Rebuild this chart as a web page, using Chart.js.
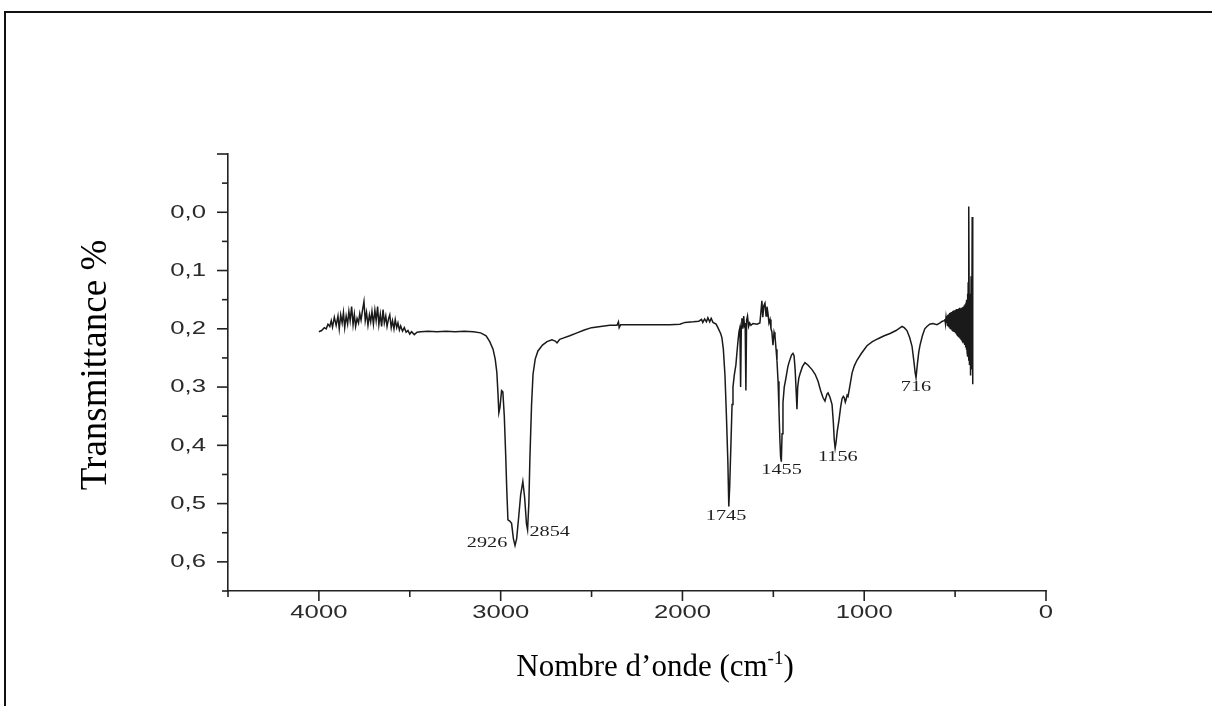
<!DOCTYPE html>
<html>
<head>
    <meta charset="UTF-8">
    <title>Spectre IR</title>
    <script src="https://cdn.jsdelivr.net/npm/chart.js"></script>
    <style>
        body { margin: 0; background: #fff; }
        #wrap { width: 1212px; height: 706px; }
    </style>
</head>
<body>
    <div id="wrap">
        <canvas id="irChart" width="1212" height="706"></canvas>
    </div>

    <script>
        // spectre (nombre d'onde en cm-1, transmittance)
        var wavenumber = [
            4000, 3985, 3970, 3960, 3950, 3940, 3932, 3925, 3915, 3905, 3895, 3888, 3880, 3872, 3865, 3858,
            3850, 3842, 3835, 3828, 3820, 3812, 3805, 3798, 3790, 3782, 3775, 3768, 3760, 3752, 3745, 3738,
            3730, 3722, 3715, 3708, 3700, 3692, 3685, 3677, 3670, 3662, 3655, 3647, 3640, 3632, 3625, 3617,
            3610, 3602, 3595, 3587, 3580, 3572, 3565, 3557, 3550, 3540, 3530, 3520, 3510, 3500, 3490, 3475,
            3460, 3440, 3400, 3350, 3300, 3250, 3200, 3150, 3110, 3080, 3060, 3042, 3030, 3021, 3015, 3010,
            3004, 2995, 2988, 2980, 2972, 2966, 2960, 2950, 2940, 2930, 2921, 2912, 2900, 2890, 2878, 2868,
            2858, 2852, 2845, 2839, 2830, 2822, 2810, 2795, 2770, 2745, 2718, 2700, 2690, 2675, 2657, 2620,
            2580, 2540, 2500, 2450, 2400, 2360, 2352, 2348, 2340, 2250, 2150, 2069, 2014, 1986, 1940, 1910,
            1895, 1888, 1878, 1868, 1860, 1850, 1842, 1832, 1815, 1805, 1790, 1783, 1775, 1766, 1758, 1750,
            1745, 1740, 1733, 1727, 1722, 1715, 1706, 1700, 1695, 1689, 1684, 1680, 1676, 1673, 1668, 1663,
            1658, 1655, 1651, 1647, 1642, 1636, 1630, 1623, 1612, 1590, 1574, 1568, 1563, 1558, 1552, 1546,
            1540, 1535, 1530, 1524, 1518, 1513, 1508, 1502, 1496, 1491, 1485, 1480, 1474, 1469, 1464, 1460,
            1456, 1452, 1447, 1440, 1431, 1420, 1414, 1400, 1392, 1386, 1380, 1374, 1370, 1366, 1360, 1354,
            1340, 1326, 1310, 1287, 1270, 1254, 1240, 1227, 1216, 1205, 1199, 1188, 1177, 1170, 1165, 1160,
            1155, 1148, 1139, 1130, 1122, 1115, 1110, 1104, 1100, 1094, 1089, 1080, 1067, 1055, 1040, 1015,
            985, 955, 924, 890, 858, 825, 792, 780, 765, 750, 737, 727, 720, 715, 708, 700,
            693, 680, 667, 655, 640, 622, 600, 583, 570, 560, 556, 553, 550, 547, 545, 542,
            540, 537, 535, 532, 530, 527, 525, 522, 520, 517, 515, 512, 510, 507, 505, 502,
            500, 497, 495, 492, 490, 487, 485, 482, 480, 477, 475, 472, 470, 467, 465, 462,
            460, 457, 455, 452, 450, 447, 445, 442, 440, 438, 436, 434, 432, 430, 428, 426,
            424, 421, 418, 415, 412, 409, 406, 404, 402
        ];
        var transmittance = [
            0.205, 0.203, 0.198, 0.200, 0.192, 0.196, 0.186, 0.197, 0.180, 0.194, 0.178, 0.200, 0.176, 0.190, 0.172, 0.198,
            0.178, 0.192, 0.170, 0.186, 0.162, 0.193, 0.175, 0.196, 0.182, 0.190, 0.174, 0.185, 0.168, 0.153, 0.186, 0.172,
            0.194, 0.176, 0.188, 0.170, 0.192, 0.168, 0.186, 0.162, 0.193, 0.175, 0.196, 0.167, 0.190, 0.178, 0.196, 0.183,
            0.176, 0.198, 0.186, 0.200, 0.184, 0.198, 0.190, 0.202, 0.195, 0.204, 0.198, 0.206, 0.203, 0.209, 0.205, 0.210,
            0.206, 0.205, 0.204, 0.205, 0.204, 0.205, 0.204, 0.205, 0.207, 0.212, 0.222, 0.235, 0.252, 0.275, 0.310, 0.344,
            0.335, 0.306, 0.308, 0.350, 0.420, 0.480, 0.528, 0.530, 0.534, 0.560, 0.572, 0.560, 0.520, 0.485, 0.462, 0.490,
            0.535, 0.545, 0.500, 0.420, 0.330, 0.278, 0.252, 0.238, 0.228, 0.222, 0.219, 0.221, 0.224, 0.218, 0.216, 0.212,
            0.207, 0.202, 0.198, 0.196, 0.194, 0.194, 0.188, 0.198, 0.193, 0.193, 0.193, 0.193, 0.192, 0.189, 0.188, 0.187,
            0.184, 0.189, 0.183, 0.188, 0.181, 0.188, 0.182, 0.189, 0.192, 0.198, 0.208, 0.215, 0.235, 0.280, 0.350, 0.430,
            0.505, 0.470, 0.395, 0.330, 0.300, 0.280, 0.262, 0.240, 0.223, 0.205, 0.198, 0.300, 0.195, 0.182, 0.200, 0.178,
            0.198, 0.190, 0.306, 0.185, 0.178, 0.196, 0.190, 0.194, 0.191, 0.192, 0.190, 0.170, 0.152, 0.180, 0.160, 0.156,
            0.178, 0.162, 0.172, 0.190, 0.184, 0.200, 0.205, 0.228, 0.206, 0.212, 0.235, 0.255, 0.290, 0.339, 0.390, 0.420,
            0.428, 0.380, 0.327, 0.300, 0.285, 0.265, 0.258, 0.245, 0.242, 0.246, 0.270, 0.310, 0.338, 0.300, 0.285, 0.278,
            0.265, 0.258, 0.262, 0.270, 0.278, 0.290, 0.306, 0.318, 0.324, 0.312, 0.310, 0.318, 0.330, 0.360, 0.390, 0.405,
            0.395, 0.375, 0.357, 0.335, 0.320, 0.316, 0.318, 0.326, 0.322, 0.314, 0.316, 0.300, 0.276, 0.264, 0.254, 0.242,
            0.229, 0.222, 0.217, 0.212, 0.208, 0.203, 0.196, 0.198, 0.203, 0.215, 0.230, 0.255, 0.275, 0.284, 0.262, 0.240,
            0.228, 0.212, 0.200, 0.196, 0.192, 0.191, 0.193, 0.190, 0.187, 0.186, 0.183, 0.191, 0.180, 0.190, 0.178, 0.194,
            0.176, 0.195, 0.175, 0.197, 0.173, 0.199, 0.172, 0.200, 0.171, 0.202, 0.170, 0.203, 0.169, 0.205, 0.168, 0.206,
            0.168, 0.208, 0.167, 0.210, 0.166, 0.211, 0.166, 0.213, 0.165, 0.214, 0.164, 0.216, 0.165, 0.218, 0.164, 0.220,
            0.163, 0.222, 0.162, 0.224, 0.160, 0.228, 0.158, 0.232, 0.155, 0.236, 0.150, 0.240, 0.140, 0.248, 0.120, 0.255,
            -0.010, 0.262, 0.140, 0.280, 0.110, 0.270, 0.008, 0.230, 0.295
        ];

        // pics annotés
        var peakNames = ['2926', '2854', '1745', '1455', '1156', '716'];
        var peakLabelWn = [3075, 2730, 1760, 1455, 1145, 715];
        var peakLabelT = [0.567, 0.549, 0.522, 0.443, 0.420, 0.300];

        var xTickLabels = ['4000', '3000', '2000', '1000', '0'];
        var yTickLabels = ['0,0', '0,1', '0,2', '0,3', '0,4', '0,5', '0,6'];

        function stretchText(ctx, text, x, y, sx) {
            ctx.save();
            ctx.translate(x, y);
            ctx.scale(sx, 1);
            ctx.fillText(text, 0, 0);
            ctx.restore();
        }

        var decorPlugin = {
            id: 'decor',
            afterDraw: function (chart) {
                var ctx = chart.ctx;
                var xs = chart.scales.x;
                var ys = chart.scales.y;
                var area = chart.chartArea;

                ctx.save();
                ctx.strokeStyle = '#222';
                ctx.lineWidth = 1.6;

                // ticks y
                ys.ticks.forEach(function (t) {
                    var v = t.value;
                    var py = ys.getPixelForValue(v);
                    var major = Math.abs(v * 10 - Math.round(v * 10)) < 1e-6;
                    ctx.beginPath();
                    ctx.moveTo(area.left - (major ? 11 : 6), py);
                    ctx.lineTo(area.left, py);
                    ctx.stroke();
                });
                // ticks x
                xs.ticks.forEach(function (t) {
                    var px = xs.getPixelForValue(t.value);
                    var major = t.value % 1000 === 0;
                    ctx.beginPath();
                    ctx.moveTo(px, area.bottom);
                    ctx.lineTo(px, area.bottom + (major ? 10 : 6));
                    ctx.stroke();
                });

                // libellés des ticks
                ctx.fillStyle = '#2a2a2a';
                ctx.font = '19px "Liberation Sans", Arial, sans-serif';
                ctx.textBaseline = 'middle';
                ctx.textAlign = 'right';
                yTickLabels.forEach(function (lab) {
                    var v = parseFloat(lab.replace(',', '.'));
                    stretchText(ctx, lab, area.left - 22, ys.getPixelForValue(v), 1.35);
                });
                ctx.textAlign = 'center';
                xTickLabels.forEach(function (lab) {
                    stretchText(ctx, lab, xs.getPixelForValue(+lab), area.bottom + 22, 1.35);
                });

                // annotations des pics
                ctx.fillStyle = '#1e1e1e';
                ctx.font = '15px "Liberation Serif", "Times New Roman", serif';
                ctx.textAlign = 'center';
                peakNames.forEach(function (name, i) {
                    stretchText(ctx, name, xs.getPixelForValue(peakLabelWn[i]), ys.getPixelForValue(peakLabelT[i]), 1.35);
                });

                // titres des axes
                ctx.fillStyle = '#000';
                ctx.font = '37px "Liberation Serif", "Times New Roman", serif';
                ctx.save();
                ctx.translate(96, 365);
                ctx.rotate(-Math.PI / 2);
                ctx.textAlign = 'center';
                ctx.fillText('Transmittance %', 0, 0);
                ctx.restore();

                var main = 'Nombre d\u2019onde (cm';
                var sup = '-1';
                var tail = ')';
                var bigFont = '31px "Liberation Serif", "Times New Roman", serif';
                var smallFont = '19px "Liberation Serif", "Times New Roman", serif';
                ctx.font = bigFont;
                var w1 = ctx.measureText(main).width;
                var w3 = ctx.measureText(tail).width;
                ctx.font = smallFont;
                var w2 = ctx.measureText(sup).width;
                var x0 = 655 - (w1 + w2 + w3) / 2;
                ctx.textAlign = 'left';
                ctx.textBaseline = 'alphabetic';
                ctx.font = bigFont;
                ctx.fillText(main, x0, 676);
                ctx.font = smallFont;
                ctx.fillText(sup, x0 + w1, 664);
                ctx.font = bigFont;
                ctx.fillText(tail, x0 + w1 + w2, 676);

                // cadre de la figure
                ctx.strokeStyle = '#111';
                ctx.lineWidth = 2;
                ctx.beginPath();
                ctx.moveTo(5, 706);
                ctx.lineTo(5, 12);
                ctx.lineTo(1212, 12);
                ctx.stroke();
                ctx.restore();
            }
        };

        var points = wavenumber.map(function (w, i) {
            return { x: w, y: transmittance[i] };
        });

        var ctx = document.getElementById('irChart').getContext('2d');
        var irChart = new Chart(ctx, {
            type: 'line',
            data: {
                datasets: [{
                    label: 'Transmittance',
                    data: points,
                    borderColor: '#1a1a1a',
                    borderWidth: 1.5,
                    pointRadius: 0,
                    tension: 0,
                    fill: false
                }]
            },
            options: {
                responsive: false,
                devicePixelRatio: 1,
                animation: false,
                layout: { padding: { left: 228, right: 166, top: 154, bottom: 115 } },
                plugins: {
                    legend: { display: false },
                    tooltip: { enabled: false }
                },
                scales: {
                    x: {
                        type: 'linear',
                        reverse: true,
                        min: 0,
                        max: 4500,
                        ticks: { display: false, stepSize: 500 },
                        grid: { display: true, drawOnChartArea: false, drawTicks: false, color: 'rgba(0,0,0,0)' },
                        border: { display: true, color: '#222', width: 1.6 },
                        afterFit: function (s) { s.height = 0; }
                    },
                    y: {
                        reverse: true,
                        min: -0.1,
                        max: 0.65,
                        ticks: { display: false, stepSize: 0.05 },
                        grid: { display: true, drawOnChartArea: false, drawTicks: false, color: 'rgba(0,0,0,0)' },
                        border: { display: true, color: '#222', width: 1.6 },
                        afterFit: function (s) { s.width = 0; }
                    }
                }
            },
            plugins: [decorPlugin]
        });
    </script>
</body>
</html>
